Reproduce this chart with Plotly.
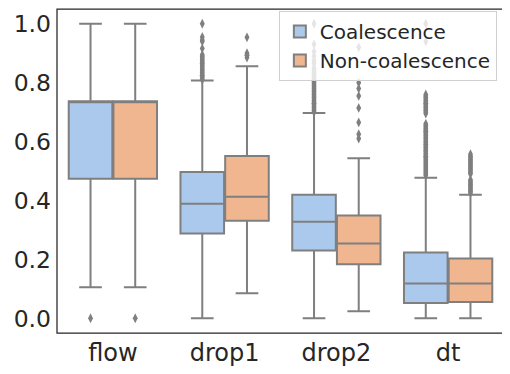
import plotly.graph_objects as go

# ==========================================================
# Data
# ==========================================================

features = ["flow", "drop1", "drop2", "dt"]
groups = ["Coalescence", "Non-coalescence"]

coal_q1 = [0.474, 0.288, 0.230, 0.052]
coal_median = [0.737, 0.389, 0.328, 0.118]
coal_q3 = [0.737, 0.497, 0.419, 0.223]
coal_low = [0.105, 0.0, 0.0, 0.0]
coal_high = [1.0, 0.807, 0.697, 0.477]

non_q1 = [0.474, 0.331, 0.183, 0.055]
non_median = [0.737, 0.413, 0.254, 0.118]
non_q3 = [0.737, 0.551, 0.349, 0.203]
non_low = [0.105, 0.085, 0.024, 0.0]
non_high = [1.0, 0.856, 0.543, 0.419]

coal_outliers = [
    [0.0],
    [1.0, 0.955, 0.945, 0.94, 0.916, 0.895, 0.89, 0.885, 0.88, 0.875,
     0.87, 0.865, 0.86, 0.855, 0.85, 0.845, 0.84, 0.835, 0.83, 0.825,
     0.82, 0.815, 0.81],
    [1.0, 0.93, 0.905, 0.89, 0.875, 0.865, 0.85, 0.845, 0.84, 0.835,
     0.83, 0.825, 0.82, 0.815, 0.81, 0.805, 0.8, 0.795, 0.79, 0.785,
     0.78, 0.775, 0.77, 0.765, 0.76, 0.755, 0.75, 0.745, 0.74, 0.735,
     0.73, 0.725, 0.72, 0.715, 0.71, 0.705, 0.70],
    [1.0, 0.94, 0.865, 0.76, 0.755, 0.75, 0.745, 0.74, 0.735, 0.73,
     0.725, 0.72, 0.715, 0.71, 0.705, 0.70, 0.695, 0.66, 0.655, 0.65,
     0.645, 0.64, 0.635, 0.63, 0.625, 0.62, 0.615, 0.61, 0.605, 0.60,
     0.595, 0.59, 0.585, 0.58, 0.575, 0.57, 0.565, 0.56, 0.555, 0.55,
     0.545, 0.54, 0.535, 0.53, 0.525, 0.52, 0.515, 0.51, 0.505, 0.50,
     0.495, 0.49, 0.485],
]

non_outliers = [
    [0.0],
    [0.954, 0.9, 0.893, 0.885],
    [0.92, 0.80, 0.78, 0.755, 0.714, 0.665, 0.625, 0.61],
    [0.557, 0.55, 0.545, 0.54, 0.535, 0.53, 0.525, 0.52, 0.515, 0.51,
     0.505, 0.50, 0.495, 0.49, 0.47, 0.465, 0.46, 0.455, 0.45, 0.445,
     0.44, 0.435, 0.43, 0.425],
]

colors = ["#abc9ec", "#f0b690"]
line_gray = "#7f7f7f"
text_dark = "#262626"

# ==========================================================
# Figure
# ==========================================================

stats = [
    (coal_q1, coal_median, coal_q3, coal_low, coal_high, coal_outliers),
    (non_q1, non_median, non_q3, non_low, non_high, non_outliers),
]
offsets = [-0.2, 0.2]

fig = go.Figure()

for name, color, offset, (q1, med, q3, lo, hi, outs) in zip(groups, colors, offsets, stats):
    xpos = [i + offset for i in range(len(features))]
    fig.add_trace(go.Box(
        name=name,
        x=xpos,
        q1=q1,
        median=med,
        q3=q3,
        lowerfence=lo,
        upperfence=hi,
        width=0.39,
        whiskerwidth=0.52,
        fillcolor=color,
        line=dict(color=line_gray, width=2),
        boxpoints=False,
    ))
    out_x = []
    out_y = []
    for i, vals in enumerate(outs):
        out_x += [i + offset] * len(vals)
        out_y += vals
    fig.add_trace(go.Scatter(
        x=out_x,
        y=out_y,
        mode="markers",
        marker=dict(symbol="diamond-tall", size=7, color=line_gray),
        showlegend=False,
        hoverinfo="y",
    ))

# the page body adds an 8px offset, so the figure is a bit smaller
fig.update_layout(
    template="none",
    width=502,
    height=366,
    margin=dict(l=49, r=6, t=1, b=41, autoexpand=False),
    plot_bgcolor="white",
    paper_bgcolor="white",
    font=dict(family="DejaVu Sans", color=text_dark, size=24),
    legend=dict(
        x=0.984,
        y=0.994,
        xanchor="right",
        yanchor="top",
        bgcolor="rgba(255,255,255,0.8)",
        bordercolor="#d0d0d0",
        borderwidth=1,
        font=dict(size=20, color=text_dark),
        tracegroupgap=0,
    ),
)

# axes frame (all four spines)
fig.add_shape(
    type="rect",
    xref="paper", yref="paper",
    x0=0, x1=1, y0=0, y1=1,
    line=dict(color=text_dark, width=1.25),
    layer="above",
)

fig.update_xaxes(
    range=[-0.5, 3.5],
    tickvals=list(range(len(features))),
    ticktext=features,
    showgrid=False,
    zeroline=False,
    showline=False,
    ticks="",
    automargin=False,
    ticklabelstandoff=3,
)

fig.update_yaxes(
    range=[-0.05, 1.05],
    tickvals=[0, 0.2, 0.4, 0.6, 0.8, 1.0],
    tickformat=".1f",
    tickfont=dict(size=23.5),
    showgrid=False,
    zeroline=False,
    showline=False,
    ticks="",
    automargin=False,
    ticklabelstandoff=5,
)

fig.write_html("out.html")
